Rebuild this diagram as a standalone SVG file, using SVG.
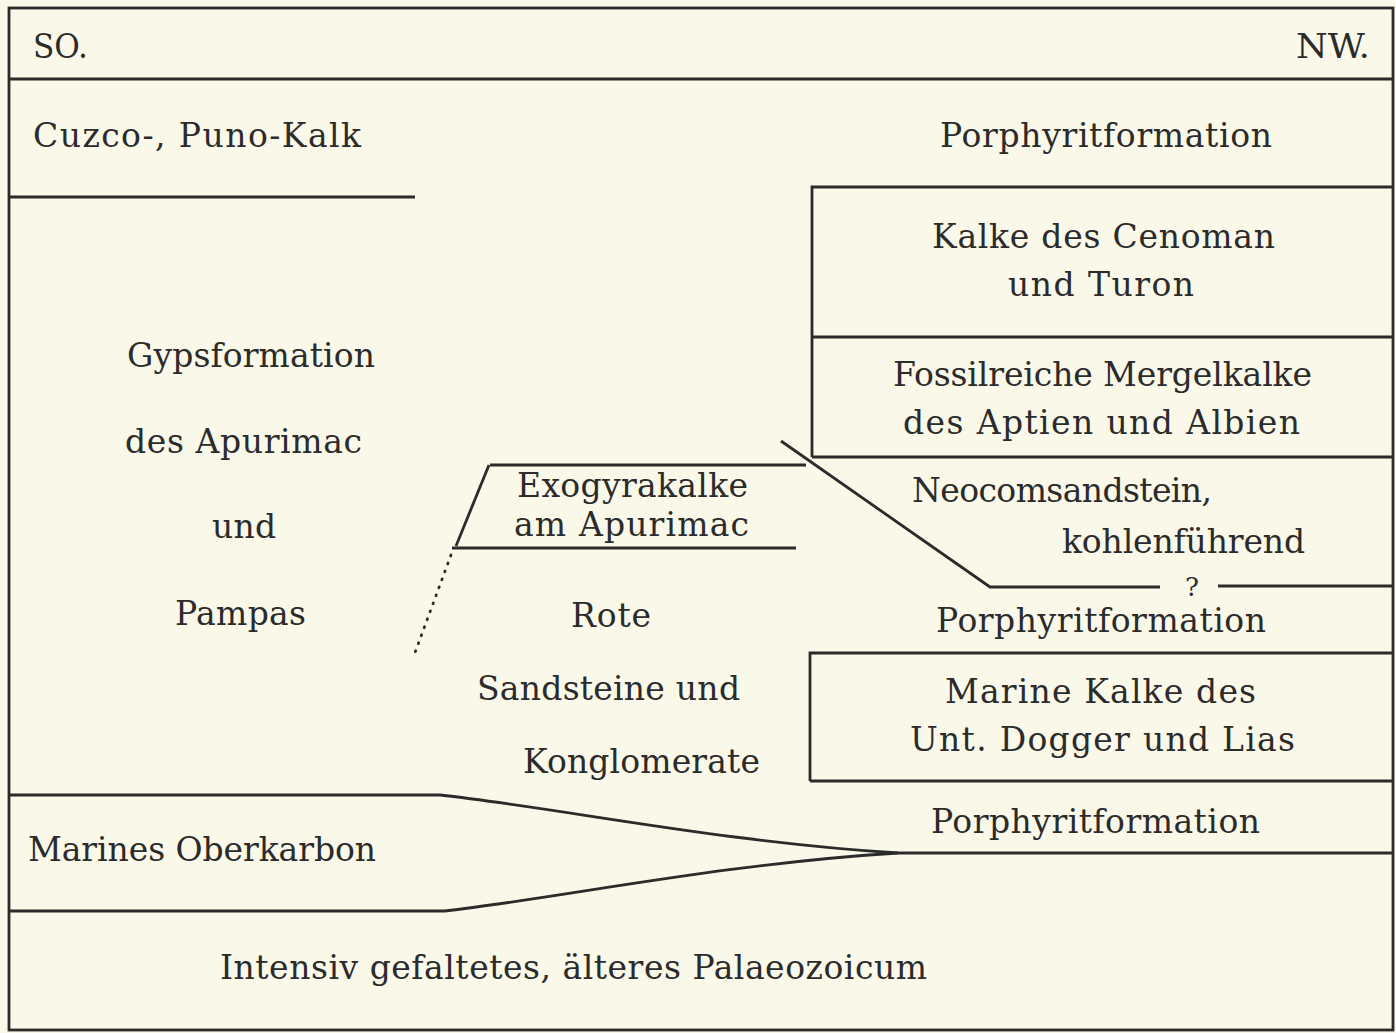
<svg xmlns="http://www.w3.org/2000/svg" width="1396" height="1033" viewBox="0 0 1396 1033">
<style>
text{font-family:'DejaVu Serif','Liberation Serif',serif;font-size:33px;fill:#2b2b2b}
.l{stroke:#2b2b2b;stroke-width:2.8;fill:none}
.d{stroke:#2b2b2b;stroke-width:2.8;fill:none;stroke-dasharray:1 7.5;stroke-linecap:round}
</style>
<rect width="1396" height="1033" fill="#faf8e9"/>
<g id="frame" class="l">
<rect x="9" y="8" width="1384" height="1022"/>
<line x1="9" y1="79" x2="1393" y2="79"/>
</g>
<g id="connectors" class="l">
<line x1="9" y1="197" x2="415" y2="197"/>
<polyline points="812,457 812,187 1393,187"/>
<line x1="812" y1="337" x2="1393" y2="337"/>
<line x1="812" y1="457" x2="1393" y2="457"/>
<polyline points="781,441 990,587 1160,587"/>
<line x1="1218" y1="586" x2="1393" y2="586"/>
<line x1="490" y1="465" x2="806" y2="465"/>
<line x1="489" y1="465" x2="456" y2="546"/>
<line x1="452" y1="548" x2="796" y2="548"/>
<line class="d" x1="451" y1="555" x2="413" y2="658"/>
<polyline points="810,781 810,653 1393,653"/>
<line x1="810" y1="781" x2="1393" y2="781"/>
<path d="M9,795 L440,795 C560,808 720,842 898,853"/>
<path d="M9,911 L445,911 C560,898 720,864 898,853"/>
<line x1="898" y1="853" x2="1393" y2="853"/>
</g>
<g id="header">
<text x="33" y="58" textLength="55" lengthAdjust="spacingAndGlyphs">SO.</text>
<text x="1296" y="58" textLength="74" lengthAdjust="spacingAndGlyphs">NW.</text>
</g>
<g id="cuzco"><text x="33" y="147" textLength="328">Cuzco-,  Puno-Kalk</text></g>
<g id="porphyrit-top"><text x="940" y="147" textLength="332">Porphyritformation</text></g>
<g id="cenoman">
<text x="932" y="248" textLength="343">Kalke des Cenoman</text>
<text x="1008" y="296" textLength="186">und Turon</text>
</g>
<g id="aptien">
<text x="893" y="386" textLength="419">Fossilreiche Mergelkalke</text>
<text x="903" y="434" textLength="397">des Aptien und Albien</text>
</g>
<g id="gyps">
<text x="127" y="367" textLength="248">Gypsformation</text>
<text x="125" y="453" textLength="237">des Apurimac</text>
<text x="212" y="538" textLength="64">und</text>
<text x="175" y="625" textLength="131">Pampas</text>
</g>
<g id="exogyra">
<text x="517" y="497" textLength="231">Exogyrakalke</text>
<text x="514" y="536" textLength="235">am Apurimac</text>
</g>
<g id="neocom">
<text x="912" y="502" textLength="300">Neocomsandstein,</text>
<text x="1062" y="553" textLength="243">kohlenführend</text>
<text x="1185" y="596" style="font-size:26px">?</text>
</g>
<g id="porphyrit-mid"><text x="936" y="632" textLength="330">Porphyritformation</text></g>
<g id="rote">
<text x="571" y="627" textLength="80">Rote</text>
<text x="477" y="700" textLength="263">Sandsteine und</text>
<text x="523" y="773" textLength="237">Konglomerate</text>
</g>
<g id="dogger">
<text x="945" y="703" textLength="311">Marine Kalke des</text>
<text x="910" y="751" textLength="385">Unt. Dogger und Lias</text>
</g>
<g id="porphyrit-low"><text x="931" y="833" textLength="329">Porphyritformation</text></g>
<g id="oberkarbon"><text x="28" y="861" textLength="348">Marines Oberkarbon</text></g>
<g id="palaeozoicum"><text x="220" y="979" textLength="707">Intensiv gefaltetes, älteres Palaeozoicum</text></g>
</svg>
